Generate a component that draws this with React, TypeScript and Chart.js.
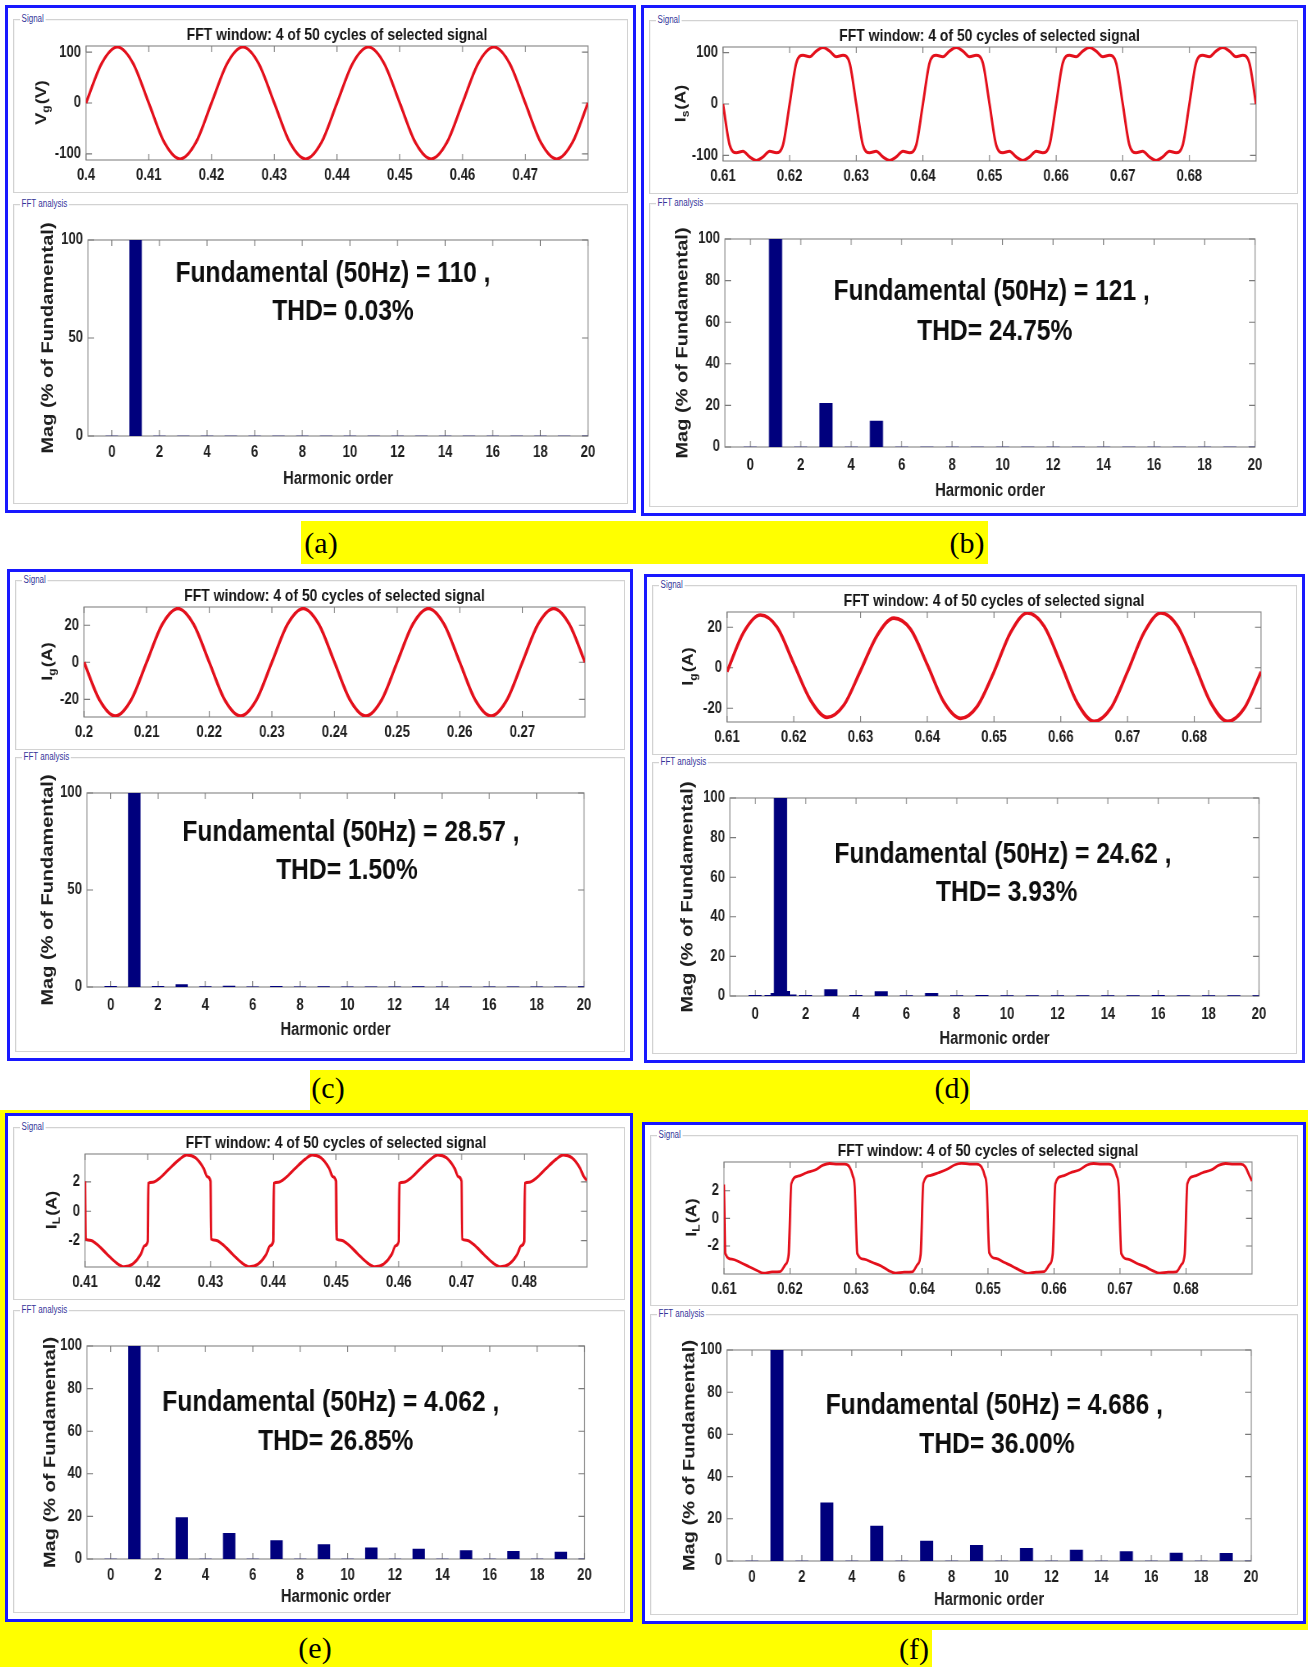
import React, { useEffect, useRef } from "react";
import { Chart, registerables } from "chart.js";
Chart.register(...registerables);

// ---------------- DATA ----------------
const plotTitle = "FFT window: 4 of 50 cycles of selected signal";
const fftXLabel = "Harmonic order";
const fftYLabel = "Mag (% of Fundamental)";
const panelLetters = ["(a)", "(b)", "(c)", "(d)", "(e)", "(f)"];
const fundTexts = [
  "Fundamental (50Hz) = 110 ,",
  "Fundamental (50Hz) = 121 ,",
  "Fundamental (50Hz) = 28.57 ,",
  "Fundamental (50Hz) = 24.62 ,",
  "Fundamental (50Hz) = 4.062 ,",
  "Fundamental (50Hz) = 4.686 ,",
];
const thdTexts = ["THD= 0.03%", "THD= 24.75%", "THD= 1.50%", "THD= 3.93%", "THD= 26.85%", "THD= 36.00%"];
const sigYLabels = [
  ["V", "g", "(V)"],
  ["I", "s", "(A)"],
  ["I", "g", "(A)"],
  ["I", "g", "(A)"],
  ["I", "L", "(A)"],
  ["I", "L", "(A)"],
];

// (a) grid voltage
const sigATime = [0.4, 0.4025, 0.405, 0.4075, 0.41, 0.4125, 0.415, 0.4175, 0.42, 0.4225, 0.425, 0.4275, 0.43, 0.4325, 0.435, 0.4375, 0.44, 0.4425, 0.445, 0.4475, 0.45, 0.4525, 0.455, 0.4575, 0.46, 0.4625, 0.465, 0.4675, 0.47, 0.4725, 0.475, 0.4775, 0.48];
const sigAVal = [0, 78, 110, 78, 0, -78, -110, -78, 0, 78, 110, 78, 0, -78, -110, -78, 0, 78, 110, 78, 0, -78, -110, -78, 0, 78, 110, 78, 0, -78, -110, -78, 0];
const sigAXTicks = [0.4, 0.41, 0.42, 0.43, 0.44, 0.45, 0.46, 0.47];
const sigAYTicks = [-100, 0, 100];

// (b) source current
const sigBTime = [0.61, 0.611, 0.612, 0.613, 0.614, 0.615, 0.616, 0.617, 0.618, 0.619, 0.62, 0.621, 0.622, 0.623, 0.624, 0.625, 0.626, 0.627, 0.628, 0.629, 0.63, 0.631, 0.632, 0.633, 0.634, 0.635, 0.636, 0.637, 0.638, 0.639, 0.64, 0.641, 0.642, 0.643, 0.644, 0.645, 0.646, 0.647, 0.648, 0.649, 0.65, 0.651, 0.652, 0.653, 0.654, 0.655, 0.656, 0.657, 0.658, 0.659, 0.66, 0.661, 0.662, 0.663, 0.664, 0.665, 0.666, 0.667, 0.668, 0.669, 0.67, 0.671, 0.672, 0.673, 0.674, 0.675, 0.676, 0.677, 0.678, 0.679, 0.68, 0.681, 0.682, 0.683, 0.684, 0.685, 0.686, 0.687, 0.688, 0.689, 0.69];
const sigBVal = [
  0, -80, -95, -92, -103, -110, -103, -92, -95, -80,
  0, 80, 95, 92, 103, 110, 103, 92, 95, 80,
  0, -80, -95, -92, -103, -110, -103, -92, -95, -80,
  0, 80, 95, 92, 103, 110, 103, 92, 95, 80,
  0, -80, -95, -92, -103, -110, -103, -92, -95, -80,
  0, 80, 95, 92, 103, 110, 103, 92, 95, 80,
  0, -80, -95, -92, -103, -110, -103, -92, -95, -80,
  0, 80, 95, 92, 103, 110, 103, 92, 95, 80,
  0,
];
const sigBXTicks = [0.61, 0.62, 0.63, 0.64, 0.65, 0.66, 0.67, 0.68];
const sigBYTicks = [-100, 0, 100];

// (c) grid current
const sigCTime = [0.2, 0.2025, 0.205, 0.2075, 0.21, 0.2125, 0.215, 0.2175, 0.22, 0.2225, 0.225, 0.2275, 0.23, 0.2325, 0.235, 0.2375, 0.24, 0.2425, 0.245, 0.2475, 0.25, 0.2525, 0.255, 0.2575, 0.26, 0.2625, 0.265, 0.2675, 0.27, 0.2725, 0.275, 0.2775, 0.28];
const sigCVal = [0, -20.5, -29, -20.5, 0, 20.5, 29, 20.5, 0, -20.5, -29, -20.5, 0, 20.5, 29, 20.5, 0, -20.5, -29, -20.5, 0, 20.5, 29, 20.5, 0, -20.5, -29, -20.5, 0, 20.5, 29, 20.5, 0];
const sigCXTicks = [0.2, 0.21, 0.22, 0.23, 0.24, 0.25, 0.26, 0.27];
const sigCYTicks = [-20, 0, 20];

// (d) grid current
const sigDTime = [0.61, 0.6125, 0.615, 0.6175, 0.62, 0.6225, 0.625, 0.6275, 0.63, 0.6325, 0.635, 0.6375, 0.64, 0.6425, 0.645, 0.6475, 0.65, 0.6525, 0.655, 0.6575, 0.66, 0.6625, 0.665, 0.6675, 0.67, 0.6725, 0.675, 0.6775, 0.68, 0.6825, 0.685, 0.6875, 0.69];
const sigDVal = [-2, 17.5, 26, 20, 2, -16, -24.5, -18.5, -1.5, 16, 24.5, 19, 1.5, -17, -25, -19, -2, 17.5, 27, 20.5, 2, -17.5, -26.5, -20, -2, 17.5, 27, 20.5, 2, -17.5, -26.5, -20, -2];
const sigDXTicks = [0.61, 0.62, 0.63, 0.64, 0.65, 0.66, 0.67, 0.68];
const sigDYTicks = [-20, 0, 20];

// (e) load current
const sigETime = [
  0.41, 0.4101, 0.4108, 0.4119, 0.4135, 0.4151, 0.4162, 0.4176, 0.4189, 0.4195, 0.42,
  0.4201, 0.4208, 0.4219, 0.4235, 0.4251, 0.4262, 0.4276, 0.4289, 0.4295, 0.43,
  0.4301, 0.4308, 0.4319, 0.4335, 0.4351, 0.4362, 0.4376, 0.4389, 0.4395, 0.44,
  0.4401, 0.4408, 0.4419, 0.4435, 0.4451, 0.4462, 0.4476, 0.4489, 0.4495, 0.45,
  0.4501, 0.4508, 0.4519, 0.4535, 0.4551, 0.4562, 0.4576, 0.4589, 0.4595, 0.46,
  0.4601, 0.4608, 0.4619, 0.4635, 0.4651, 0.4662, 0.4676, 0.4689, 0.4695, 0.47,
  0.4701, 0.4708, 0.4719, 0.4735, 0.4751, 0.4762, 0.4776, 0.4789, 0.4795, 0.48,
  0.4801, 0.4808, 0.4819, 0.4835, 0.4851, 0.4862, 0.4876, 0.4889, 0.4895, 0.49,
];
const sigEVal = [
  2.05, -1.9, -1.98, -2.25, -2.92, -3.55, -3.78, -3.6, -2.92, -2.35, -2.05,
  1.9, 1.98, 2.25, 2.92, 3.55, 3.84, 3.64, 2.92, 2.35, 2.05,
  -1.9, -1.98, -2.25, -2.92, -3.55, -3.78, -3.6, -2.92, -2.35, -2.05,
  1.9, 1.98, 2.25, 2.92, 3.55, 3.84, 3.64, 2.92, 2.35, 2.05,
  -1.9, -1.98, -2.25, -2.92, -3.55, -3.78, -3.6, -2.92, -2.35, -2.05,
  1.9, 1.98, 2.25, 2.92, 3.55, 3.84, 3.64, 2.92, 2.35, 2.05,
  -1.9, -1.98, -2.25, -2.92, -3.55, -3.78, -3.6, -2.92, -2.35, -2.05,
  1.9, 1.98, 2.25, 2.92, 3.55, 3.84, 3.64, 2.92, 2.35, 2.1,
];
const sigEXTicks = [0.41, 0.42, 0.43, 0.44, 0.45, 0.46, 0.47, 0.48];
const sigEYTicks = [-2, 0, 2];

// (f) load current
const sigFTime = [
  0.61,
  0.6102, 0.6112, 0.6125, 0.6138, 0.615, 0.616, 0.6173, 0.6185, 0.6193, 0.6198,
  0.6202, 0.6212, 0.6225, 0.6238, 0.625, 0.626, 0.6272, 0.6283, 0.629, 0.6295, 0.6298,
  0.6302, 0.6312, 0.6325, 0.6338, 0.635, 0.636, 0.6373, 0.6385, 0.6393, 0.6398,
  0.6402, 0.6412, 0.6425, 0.6438, 0.645, 0.646, 0.6472, 0.6483, 0.649, 0.6495, 0.6498,
  0.6502, 0.6512, 0.6525, 0.6538, 0.655, 0.656, 0.6573, 0.6585, 0.6593, 0.6598,
  0.6602, 0.6612, 0.6625, 0.6638, 0.665, 0.666, 0.6672, 0.6683, 0.669, 0.6695, 0.6698,
  0.6702, 0.6712, 0.6725, 0.6738, 0.675, 0.676, 0.6773, 0.6785, 0.6793, 0.6798,
  0.6802, 0.6812, 0.6825, 0.6838, 0.685, 0.686, 0.6872, 0.6883, 0.689, 0.6895, 0.69,
];
const sigFVal = [
  2.45,
  -2.55, -2.95, -3.2, -3.5, -3.78, -3.97, -3.88, -3.85, -3.35, -2.6,
  2.5, 3.05, 3.3, 3.5, 3.85, 3.97, 3.92, 3.92, 3.72, 3.1, 2.3,
  -2.55, -2.95, -3.2, -3.45, -3.8, -3.97, -3.9, -3.88, -3.35, -2.6,
  2.55, 3.1, 3.3, 3.55, 3.88, 3.98, 3.93, 3.92, 3.72, 3.1, 2.3,
  -2.5, -2.9, -3.2, -3.5, -3.8, -3.98, -3.9, -3.86, -3.35, -2.6,
  2.5, 3.05, 3.3, 3.5, 3.86, 3.97, 3.92, 3.92, 3.72, 3.1, 2.3,
  -2.55, -2.95, -3.25, -3.5, -3.8, -3.97, -3.9, -3.88, -3.35, -2.6,
  2.5, 3.05, 3.3, 3.5, 3.85, 3.97, 3.92, 3.92, 3.72, 3.2, 2.7,
];
const sigFXTicks = [0.61, 0.62, 0.63, 0.64, 0.65, 0.66, 0.67, 0.68];
const sigFYTicks = [-2, 0, 2];

// FFT spectra (harmonic order 0..20, % of fundamental)
const fftOrders = [0, 1, 2, 3, 4, 5, 6, 7, 8, 9, 10, 11, 12, 13, 14, 15, 16, 17, 18, 19, 20];
const fftXTicks = [0, 2, 4, 6, 8, 10, 12, 14, 16, 18, 20];
const fftYTicks50 = [0, 50, 100];
const fftYTicks20 = [0, 20, 40, 60, 80, 100];
const fftAMag = [0, 100, 0, 0, 0, 0, 0, 0, 0, 0, 0, 0, 0, 0, 0, 0, 0, 0, 0, 0, 0];
const fftBMag = [0, 100, 0, 21, 0, 12.5, 0, 0, 0, 0, 0, 0, 0, 0, 0, 0, 0, 0, 0, 0, 0];
const fftCMag = [0.3, 100, 0.3, 1.3, 0.2, 0.5, 0.1, 0.3, 0.1, 0.2, 0.1, 0.1, 0.1, 0.2, 0.1, 0.1, 0.1, 0.1, 0.1, 0.1, 0.2];
const fftDMag = [0.3, 100, 0.4, 3.3, 0.3, 2.2, 0.2, 1.3, 0.2, 0.3, 0.2, 0.2, 0.2, 0.2, 0.2, 0.2, 0.3, 0.2, 0.2, 0.2, 0.2];
const fftDInterOrders = [0.5, 0.75, 1.25, 1.5];
const fftDInterMag = [0.4, 1.4, 2.3, 0.6];
const fftEMag = [0, 100, 0, 19.5, 0, 12, 0, 8.6, 0, 6.8, 0, 5.3, 0, 4.6, 0, 3.9, 0, 3.6, 0, 3.2, 0];
const fftFMag = [0, 100, 0, 27.6, 0, 16.6, 0, 9.5, 0, 7.4, 0, 6.0, 0, 5.2, 0, 4.5, 0, 3.8, 0, 3.6, 0];

// ---------------- STYLE / LAYOUT ----------------
const FONT = "'Liberation Sans', Arial, Helvetica, sans-serif";
const SERIF = "'Liberation Serif', 'Times New Roman', Times, serif";
const K = 0.82;
const RED = "#e3101c";
const NAVY = "#00007d";
const TXT = "#1e1e1e";

const panels = [
  { box: [5, 5, 636, 513], sig: [86, 46, 588, 160], fft: [88, 240, 588, 436], sigYDx: 44, fftYDx: 40, fftTickOff: 17, fftTitleOff: 43, fundPos: [0.49, 0.172], thdPos: [0.51, 0.367], times: sigATime, vals: sigAVal, xr: [0.4, 0.48], yr: [-112, 112], xTicks: sigAXTicks, yTicks: sigAYTicks, mags: fftAMag, fftYTicks: fftYTicks50, lw: 3.2 },
  { box: [641, 5, 1306, 516], sig: [723, 47, 1256, 161], fft: [725, 239, 1255, 447], sigYDx: 42, fftYDx: 42, fftTickOff: 19, fftTitleOff: 44.5, fundPos: [0.503, 0.255], thdPos: [0.509, 0.447], times: sigBTime, vals: sigBVal, xr: [0.61, 0.69], yr: [-111, 111], xTicks: sigBXTicks, yTicks: sigBYTicks, mags: fftBMag, fftYTicks: fftYTicks20, lw: 3 },
  { box: [7, 569, 633, 1061], sig: [84, 607, 585, 717], fft: [87, 793, 584, 987], sigYDx: 36, fftYDx: 39, fftTickOff: 19, fftTitleOff: 43.5, fundPos: [0.531, 0.205], thdPos: [0.523, 0.4], times: sigCTime, vals: sigCVal, xr: [0.2, 0.28], yr: [-29.5, 29.8], xTicks: sigCXTicks, yTicks: sigCYTicks, mags: fftCMag, fftYTicks: fftYTicks50, lw: 3.4 },
  { box: [644, 574, 1305, 1063], sig: [727, 612, 1261, 722], fft: [730, 798, 1259, 996], sigYDx: 38, fftYDx: 42, fftTickOff: 19, fftTitleOff: 43.3, fundPos: [0.516, 0.288], thdPos: [0.523, 0.48], times: sigDTime, vals: sigDVal, xr: [0.61, 0.69], yr: [-26.8, 27.5], xTicks: sigDXTicks, yTicks: sigDYTicks, mags: fftDMag, fftYTicks: fftYTicks20, lw: 3.6, inter: true },
  { box: [5, 1113, 633, 1622], sig: [84.5, 1154, 586.5, 1267], fft: [87, 1346, 584.5, 1559], sigYDx: 33, fftYDx: 36, fftTickOff: 17, fftTitleOff: 38.3, fundPos: [0.49, 0.268], thdPos: [0.5, 0.45], times: sigETime, vals: sigEVal, xr: [0.41, 0.49], yr: [-3.8, 3.9], xTicks: sigEXTicks, yTicks: sigEYTicks, mags: fftEMag, fftYTicks: fftYTicks20, lw: 3 },
  { box: [642, 1122, 1306, 1624], sig: [724, 1161.5, 1252, 1273], fft: [726.5, 1349.5, 1250.6, 1560], sigYDx: 32, fftYDx: 37.5, fftTickOff: 17, fftTitleOff: 39, fundPos: [0.51, 0.266], thdPos: [0.515, 0.447], times: sigFTime, vals: sigFVal, xr: [0.61, 0.69], yr: [-4.03, 4.08], xTicks: sigFXTicks, yTicks: sigFYTicks, mags: fftFMag, fftYTicks: fftYTicks20, lw: 2.8 },
];

const yellowRects = [
  [301, 521, 988, 564],
  [310, 1070, 970, 1110],
  [0, 1110, 1308, 1630],
  [0, 1630, 932, 1667],
];
const letterPos = [
  [321, 543],
  [967, 543],
  [328, 1088],
  [952, 1088],
  [315, 1648],
  [914, 1649],
];

// ---------------- PLUGIN ----------------
function makeAxesPlugin(o: any) {
  return {
    id: "matlabAxes",
    beforeDatasetsDraw(chart: any) {
      const { ctx, chartArea: a, scales } = chart;
      ctx.save();
      ctx.lineWidth = 1.2;
      ctx.strokeStyle = "#8e8e8e";
      ctx.strokeRect(a.left, a.top, a.right - a.left, a.bottom - a.top);
      ctx.strokeStyle = "#7a7a7a";
      ctx.lineWidth = 1.1;
      ctx.beginPath();
      const ty = 6;
      const tx = 6 / o.kk;
      for (const tk of scales.x.ticks) {
        const px = scales.x.getPixelForValue(tk.value);
        ctx.moveTo(px, a.bottom);
        ctx.lineTo(px, a.bottom - ty);
        ctx.moveTo(px, a.top);
        ctx.lineTo(px, a.top + ty);
      }
      for (const tk of scales.y.ticks) {
        const py = scales.y.getPixelForValue(tk.value);
        ctx.moveTo(a.left, py);
        ctx.lineTo(a.left + tx, py);
        ctx.moveTo(a.right, py);
        ctx.lineTo(a.right - tx, py);
      }
      ctx.stroke();
      ctx.restore();
    },
    afterDatasetsDraw(chart: any) {
      const { ctx, chartArea: a } = chart;
      ctx.save();
      ctx.fillStyle = "#0e0e0e";
      if (o.fund) {
        ctx.font = `bold ${o.textSize}px ${FONT}`;
        ctx.textAlign = "center";
        ctx.textBaseline = "middle";
        ctx.fillText(o.fund, a.left + o.fundPos[0] * (a.right - a.left), a.top + o.fundPos[1] * (a.bottom - a.top));
        ctx.fillText(o.thd, a.left + o.thdPos[0] * (a.right - a.left), a.top + o.thdPos[1] * (a.bottom - a.top));
      }
      if (o.ylab) {
        const [main, sub, unit] = o.ylab;
        const f1 = `bold 18px ${FONT}`;
        const f2 = `bold 12px ${FONT}`;
        ctx.font = f1;
        const w1 = ctx.measureText(main).width;
        const w3 = ctx.measureText(unit).width;
        ctx.font = f2;
        const w2 = ctx.measureText(sub).width;
        ctx.translate(o.ylabX, (a.top + a.bottom) / 2);
        ctx.rotate(-Math.PI / 2);
        ctx.fillStyle = TXT;
        ctx.textAlign = "left";
        ctx.textBaseline = "middle";
        let cx = -(w1 + w2 + w3) / 2;
        ctx.font = f1;
        ctx.fillText(main, cx, 0);
        cx += w1;
        ctx.font = f2;
        ctx.fillText(sub, cx, 6);
        cx += w2 + 1;
        ctx.font = f1;
        ctx.fillText(unit, cx, 0);
      }
      ctx.restore();
    },
  };
}

const tickFont = { family: FONT, size: 16, weight: "bold" as const };

function setTicks(arr: number[]) {
  return (s: any) => {
    s.ticks = arr.map((v) => ({ value: v }));
  };
}

// ---------------- CHARTS ----------------
function SignalChart({ p, idx }: any) {
  const ref = useRef<HTMLCanvasElement>(null);
  const ML = 72, MR = 14, MT = 30, MB = 34;
  const [l, t, r, b] = p.sig;
  const finalW = r - l + ML + MR;
  const Wu = Math.round(finalW / K);
  const kk = finalW / Wu;
  const H = Math.round(b - t + MT + MB);
  useEffect(() => {
    const plugin = makeAxesPlugin({ kk, ylab: sigYLabels[idx], ylabX: (ML - p.sigYDx) / kk });
    const chart = new Chart(ref.current as HTMLCanvasElement, {
      type: "line",
      data: {
        datasets: [
          {
            data: p.times.map((x: number, i: number) => ({ x, y: p.vals[i] })),
            borderColor: RED,
            borderWidth: p.lw,
            pointRadius: 0,
            cubicInterpolationMode: "monotone",
            fill: false,
          },
        ],
      },
      options: {
        animation: false,
        responsive: false,
        devicePixelRatio: 1,
        events: [],
        layout: { padding: { left: 0, right: MR / kk, top: 0, bottom: 0 } },
        plugins: {
          legend: { display: false },
          tooltip: { enabled: false },
          title: {
            display: true,
            text: plotTitle,
            fullSize: false,
            color: "#161616",
            font: { family: FONT, size: 17, weight: "bold" },
            padding: { top: 9.6, bottom: 0 },
          },
        },
        scales: {
          x: {
            type: "linear",
            min: p.xr[0],
            max: p.xr[1],
            afterBuildTicks: setTicks(p.xTicks),
            afterFit: (s: any) => {
              s.height = MB;
            },
            grid: { display: false, drawTicks: false },
            border: { display: false },
            ticks: { padding: 6.4, font: tickFont, color: TXT, autoSkip: false, maxRotation: 0, callback: (v: any) => String(v) },
          },
          y: {
            type: "linear",
            min: p.yr[0],
            max: p.yr[1],
            afterBuildTicks: setTicks(p.yTicks),
            afterFit: (s: any) => {
              s.width = ML / kk;
            },
            grid: { display: false, drawTicks: false },
            border: { display: false },
            ticks: { padding: 5 / kk, font: tickFont, color: TXT, autoSkip: false, callback: (v: any) => String(v) },
          },
        },
      },
      plugins: [plugin],
    } as any);
    return () => chart.destroy();
  }, []);
  return (
    <canvas
      ref={ref}
      width={Wu}
      height={H}
      style={{ position: "absolute", left: l - ML, top: t - MT, width: Wu, height: H, transform: `scaleX(${kk})`, transformOrigin: "0 0" }}
    />
  );
}

function FftChart({ p, idx }: any) {
  const ref = useRef<HTMLCanvasElement>(null);
  const ML = 72, MR = 16, MT = 36, MB = 58;
  const [l, t, r, b] = p.fft;
  const finalW = r - l + ML + MR;
  const Wu = Math.round(finalW / K);
  const kk = finalW / Wu;
  const H = Math.round(b - t + MT + MB);
  useEffect(() => {
    const plotWu = (r - l) / kk;
    const bt = (0.5 * plotWu) / 21;
    const plugin = makeAxesPlugin({ kk, fund: fundTexts[idx], thd: thdTexts[idx], fundPos: p.fundPos, thdPos: p.thdPos, textSize: 30 });
    const datasets: any[] = [
      {
        data: fftOrders.map((x, i) => ({ x, y: p.mags[i] })),
        backgroundColor: NAVY,
        barThickness: bt,
        grouped: false,
      },
    ];
    if (p.inter) {
      datasets.push({
        data: fftDInterOrders.map((x, i) => ({ x, y: fftDInterMag[i] })),
        backgroundColor: NAVY,
        barThickness: bt / 2,
        grouped: false,
      });
    }
    const chart = new Chart(ref.current as HTMLCanvasElement, {
      type: "bar",
      data: { datasets },
      options: {
        animation: false,
        responsive: false,
        devicePixelRatio: 1,
        events: [],
        layout: { padding: { left: 0, right: MR / kk, top: MT, bottom: 0 } },
        plugins: { legend: { display: false }, tooltip: { enabled: false } },
        scales: {
          x: {
            type: "linear",
            min: -1,
            max: 20,
            offset: false,
            afterBuildTicks: setTicks(fftXTicks),
            afterFit: (s: any) => {
              s.height = MB;
            },
            grid: { display: false, drawTicks: false },
            border: { display: false },
            ticks: { padding: p.fftTickOff - 9.6, font: tickFont, color: TXT, autoSkip: false, maxRotation: 0, callback: (v: any) => String(v) },
            title: {
              display: true,
              text: fftXLabel,
              color: TXT,
              font: { family: FONT, size: 18, weight: "bold" },
              padding: { top: 0, bottom: MB - p.fftTitleOff - 10.8 },
            },
          },
          y: {
            type: "linear",
            min: 0,
            max: 100,
            afterBuildTicks: setTicks(p.fftYTicks),
            afterFit: (s: any) => {
              s.width = ML / kk;
            },
            grid: { display: false, drawTicks: false },
            border: { display: false },
            ticks: { padding: 5 / kk, font: tickFont, color: TXT, autoSkip: false, callback: (v: any) => String(v) },
            title: {
              display: true,
              text: fftYLabel,
              color: TXT,
              font: { family: FONT, size: 20, weight: "bold" },
              padding: { top: (ML - p.fftYDx) / kk - 12, bottom: 0 },
            },
          },
        },
      },
      plugins: [plugin],
    } as any);
    return () => chart.destroy();
  }, []);
  return (
    <canvas
      ref={ref}
      width={Wu}
      height={H}
      style={{ position: "absolute", left: l - ML, top: t - MT, width: Wu, height: H, transform: `scaleX(${kk})`, transformOrigin: "0 0" }}
    />
  );
}

function GroupBox({ rect, label }: any) {
  const [x0, y0, x1, y1] = rect;
  return (
    <div
      style={{
        position: "absolute",
        left: x0,
        top: y0,
        width: x1 - x0,
        height: y1 - y0,
        border: "1px solid #d2d2d2",
        boxShadow: "inset 1px 1px 0 #f4f4f4",
        boxSizing: "border-box",
      }}
    >
      <span
        style={{
          position: "absolute",
          left: 6,
          top: -7,
          fontFamily: FONT,
          fontSize: 10,
          lineHeight: "12px",
          color: "#35359a",
          background: "#fff",
          padding: "0 2px",
          transform: "scaleX(0.8)",
          transformOrigin: "0 0",
          whiteSpace: "nowrap",
        }}
      >
        {label}
      </span>
    </div>
  );
}

function Panel({ p, idx }: any) {
  const [x0, y0, x1, y1] = p.box;
  const sigBox = [x0 + 8, p.sig[1] - 27, x1 - 8, p.sig[3] + 33];
  const fftBox = [x0 + 8, p.fft[1] - 36, x1 - 8, y1 - 9];
  return (
    <>
      <div
        style={{
          position: "absolute",
          left: x0,
          top: y0,
          width: x1 - x0,
          height: y1 - y0,
          background: "#fff",
          border: "3px solid #1818ff",
          boxSizing: "border-box",
        }}
      />
      <GroupBox rect={sigBox} label="Signal" />
      <GroupBox rect={fftBox} label="FFT analysis" />
      <SignalChart p={p} idx={idx} />
      <FftChart p={p} idx={idx} />
    </>
  );
}

export default function App() {
  return (
    <div style={{ position: "absolute", left: 0, top: 0, width: 1308, height: 1667, background: "#fff", overflow: "hidden" }}>
      {yellowRects.map((r, i) => (
        <div key={"y" + i} style={{ position: "absolute", left: r[0], top: r[1], width: r[2] - r[0], height: r[3] - r[1], background: "#ffff00" }} />
      ))}
      {panels.map((p, i) => (
        <Panel key={i} p={p} idx={i} />
      ))}
      {panelLetters.map((s, i) => (
        <div
          key={"l" + i}
          style={{
            position: "absolute",
            left: letterPos[i][0],
            top: letterPos[i][1],
            transform: "translate(-50%, -50%)",
            fontFamily: SERIF,
            fontSize: 30,
            lineHeight: "34px",
            color: "#000",
            whiteSpace: "nowrap",
          }}
        >
          {s}
        </div>
      ))}
    </div>
  );
}
